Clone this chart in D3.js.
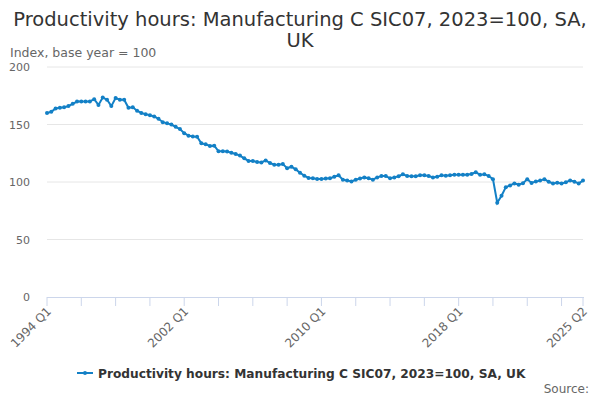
<!DOCTYPE html>
<html><head><meta charset="utf-8">
<script src="https://cdn.jsdelivr.net/npm/d3@7"></script>
<style>body{margin:0;background:#fff}svg{font-family:"DejaVu Sans",Verdana,sans-serif}</style>
</head><body><div id="chart"></div>
<script>
const startYear = 1994;
const values = [
160,161,164,164.5,165,166,168,170,170,170,170,172,167,173.5,171.5,166,173,171.5,171.5,164.5,165,162,
160,159,158,157,155,152,151,150,148,146,142.5,140.3,139.5,139.4,133.6,132.8,131.3,131.6,126.7,126.7,126.5,125.5,124.3,
123,120.6,118.3,118.3,117.4,117,118.8,116.5,115,115,115.6,112,113.3,111,108,105.5,103.5,103.2,102.6,102.6,103,103.2,
104.6,105.8,102,101.4,100.5,102,103,104,103.2,102,104,105.2,105.2,103.2,104,105,106.7,105.2,105,105,105.8,
105.8,105.2,104,104.5,105.8,105.5,105.8,106.4,106.4,106.4,106.4,107,108.5,106.2,106.8,105.2,102.5,
82,88,95.5,97,98.8,97.6,99,102.3,99.2,100.5,101.2,102.5,100.2,98.7,99.4,98.7,99.7,101.4,100.3,98.8,101.2
];
const categories = values.map((v,i)=> (startYear + Math.floor(i/4)) + " Q" + (i%4+1));
const tickLabels = ["1994 Q1","2002 Q1","2010 Q1","2018 Q1","2025 Q2"];
const yTicks = [0,50,100,150,200];
const seriesName = "Productivity hours: Manufacturing C SIC07, 2023=100, SA, UK";
const titleLines = ["Productivity hours: Manufacturing C SIC07, 2023=100, SA,","UK"];
const color = "#1380c6";

const W=600,H=400;
const svg = d3.select("#chart").append("svg").attr("width",W).attr("height",H);
const x = d3.scalePoint().domain(categories).range([47,583]);
const y = d3.scaleLinear().domain([0,200]).range([297,67]);

svg.append("g").selectAll("text").data(titleLines).join("text")
  .attr("x",300).attr("y",(d,i)=>26+i*21).attr("text-anchor","middle")
  .attr("font-size",19.5).attr("fill","#333").text(d=>d);

svg.append("text").attr("x",10).attr("y",57).attr("font-size",12.5).attr("fill","#666").text("Index, base year = 100");

// grid
const g = svg.append("g");
g.selectAll("line.grid").data(yTicks.filter(t=>t>0)).join("line")
  .attr("x1",47).attr("x2",583).attr("y1",d=>y(d)).attr("y2",d=>y(d))
  .attr("stroke","#e6e6e6").attr("stroke-width",1);
g.selectAll("text.yl").data(yTicks).join("text")
  .attr("x",30).attr("y",d=>y(d)+4).attr("text-anchor","end")
  .attr("font-size",11).attr("fill","#666").text(d=>d);

// x axis
g.append("line").attr("x1",47).attr("x2",584).attr("y1",297.5).attr("y2",297.5).attr("stroke","#ccd6eb");
const tickCats = categories.filter((c,i)=> i%8===0).concat([categories[categories.length-1]]);
g.selectAll("line.xt").data(tickCats).join("line")
  .attr("x1",d=>x(d)).attr("x2",d=>x(d)).attr("y1",297).attr("y2",306).attr("stroke","#ccd6eb");
g.selectAll("text.xl").data(tickLabels).join("text")
  .attr("text-anchor","end").attr("font-size",12).attr("fill","#666")
  .attr("transform",d=>`translate(${x(d)+5},${312}) rotate(-45)`).text(d=>d);

// line
const pts = values.map((v,i)=>({c:categories[i],v}));
svg.append("path").datum(pts).attr("fill","none").attr("stroke",color).attr("stroke-width",2)
  .attr("d",d3.line().x(d=>x(d.c)).y(d=>y(d.v)));
svg.append("g").selectAll("circle").data(pts).join("circle")
  .attr("cx",d=>x(d.c)).attr("cy",d=>y(d.v)).attr("r",2).attr("fill",color);

// legend
const lg = svg.append("g");
lg.append("line").attr("x1",77).attr("x2",93).attr("y1",373).attr("y2",373).attr("stroke",color).attr("stroke-width",2);
lg.append("circle").attr("cx",85).attr("cy",373).attr("r",2).attr("fill",color);
lg.append("text").attr("x",98).attr("y",377.5).attr("font-size",12.2).attr("font-weight","bold").attr("fill","#333").text(seriesName);

svg.append("text").attr("x",589).attr("y",393).attr("text-anchor","end").attr("font-size",12).attr("fill","#666").text("Source:");
</script></body></html>
